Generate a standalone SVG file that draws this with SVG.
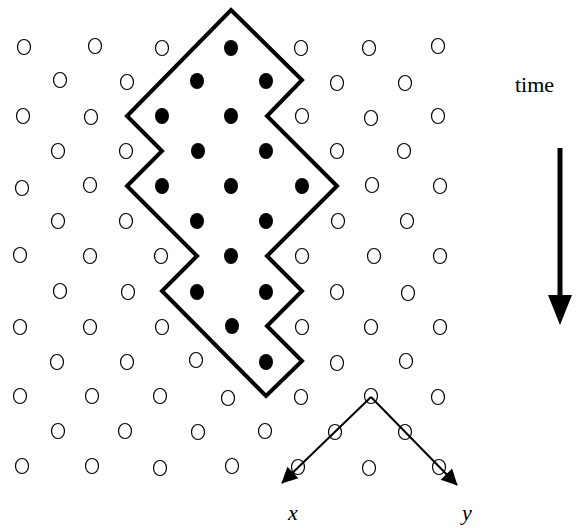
<svg xmlns="http://www.w3.org/2000/svg" width="583" height="528" viewBox="0 0 583 528">
<style>
.o{fill:#fff;stroke:#000;stroke-width:1.2}
.f{fill:#000;stroke:none}
</style>
<defs>
<marker id="ah2" viewBox="0 0 10 10" refX="9.5" refY="5" markerWidth="20" markerHeight="16" markerUnits="userSpaceOnUse" orient="auto">
<path d="M0,0 L10,5 L0,10 Z" fill="#000"/>
</marker>
</defs>
<rect width="583" height="528" fill="#fff"/>
<g id="lattice">
<g id="row0"><ellipse class="o" cx="24" cy="47" rx="6.5" ry="7.5"/><ellipse class="o" cx="95" cy="46" rx="6.5" ry="7.5"/><ellipse class="o" cx="162" cy="48" rx="6.5" ry="7.5"/><ellipse class="f" cx="231" cy="48" rx="7" ry="8"/><ellipse class="o" cx="301" cy="48" rx="6.5" ry="7.5"/><ellipse class="o" cx="369" cy="48" rx="6.5" ry="7.5"/><ellipse class="o" cx="438" cy="46" rx="6.5" ry="7.5"/></g>
<g id="row1"><ellipse class="o" cx="60" cy="80" rx="6.5" ry="7.5"/><ellipse class="o" cx="127" cy="82" rx="6.5" ry="7.5"/><ellipse class="f" cx="197" cy="81" rx="7" ry="8"/><ellipse class="f" cx="266" cy="81" rx="7" ry="8"/><ellipse class="o" cx="337" cy="83" rx="6.5" ry="7.5"/><ellipse class="o" cx="405" cy="83" rx="6.5" ry="7.5"/></g>
<g id="row2"><ellipse class="o" cx="23" cy="116" rx="6.5" ry="7.5"/><ellipse class="o" cx="91" cy="117" rx="6.5" ry="7.5"/><ellipse class="f" cx="162" cy="116" rx="7" ry="8"/><ellipse class="f" cx="231" cy="116" rx="7" ry="8"/><ellipse class="o" cx="302" cy="116" rx="6.5" ry="7.5"/><ellipse class="o" cx="371" cy="118" rx="6.5" ry="7.5"/><ellipse class="o" cx="438" cy="116" rx="6.5" ry="7.5"/></g>
<g id="row3"><ellipse class="o" cx="58" cy="151" rx="6.5" ry="7.5"/><ellipse class="o" cx="126" cy="151" rx="6.5" ry="7.5"/><ellipse class="f" cx="198" cy="151" rx="7" ry="8"/><ellipse class="f" cx="266" cy="151" rx="7" ry="8"/><ellipse class="o" cx="337" cy="151" rx="6.5" ry="7.5"/><ellipse class="o" cx="404" cy="151" rx="6.5" ry="7.5"/></g>
<g id="row4"><ellipse class="o" cx="22" cy="188" rx="6.5" ry="7.5"/><ellipse class="o" cx="90" cy="185" rx="6.5" ry="7.5"/><ellipse class="f" cx="162" cy="186" rx="7" ry="8"/><ellipse class="f" cx="231" cy="186" rx="7" ry="8"/><ellipse class="f" cx="302" cy="186" rx="7" ry="8"/><ellipse class="o" cx="372" cy="185" rx="6.5" ry="7.5"/><ellipse class="o" cx="440" cy="186" rx="6.5" ry="7.5"/></g>
<g id="row5"><ellipse class="o" cx="58" cy="221" rx="6.5" ry="7.5"/><ellipse class="o" cx="126" cy="221" rx="6.5" ry="7.5"/><ellipse class="f" cx="197" cy="221" rx="7" ry="8"/><ellipse class="f" cx="266" cy="221" rx="7" ry="8"/><ellipse class="o" cx="338" cy="221" rx="6.5" ry="7.5"/><ellipse class="o" cx="407" cy="221" rx="6.5" ry="7.5"/></g>
<g id="row6"><ellipse class="o" cx="20" cy="255" rx="6.5" ry="7.5"/><ellipse class="o" cx="90" cy="256" rx="6.5" ry="7.5"/><ellipse class="o" cx="161" cy="256" rx="6.5" ry="7.5"/><ellipse class="f" cx="231" cy="256" rx="7" ry="8"/><ellipse class="o" cx="302" cy="256" rx="6.5" ry="7.5"/><ellipse class="o" cx="374" cy="256" rx="6.5" ry="7.5"/><ellipse class="o" cx="440" cy="256" rx="6.5" ry="7.5"/></g>
<g id="row7"><ellipse class="o" cx="60" cy="291" rx="6.5" ry="7.5"/><ellipse class="o" cx="128" cy="292" rx="6.5" ry="7.5"/><ellipse class="f" cx="197" cy="292" rx="7" ry="8"/><ellipse class="f" cx="266" cy="292" rx="7" ry="8"/><ellipse class="o" cx="337" cy="292" rx="6.5" ry="7.5"/><ellipse class="o" cx="408" cy="293" rx="6.5" ry="7.5"/></g>
<g id="row8"><ellipse class="o" cx="20" cy="327" rx="6.5" ry="7.5"/><ellipse class="o" cx="90" cy="327" rx="6.5" ry="7.5"/><ellipse class="o" cx="162" cy="327" rx="6.5" ry="7.5"/><ellipse class="f" cx="232" cy="326" rx="7" ry="8"/><ellipse class="o" cx="302" cy="327" rx="6.5" ry="7.5"/><ellipse class="o" cx="371" cy="327" rx="6.5" ry="7.5"/><ellipse class="o" cx="440" cy="327" rx="6.5" ry="7.5"/></g>
<g id="row9"><ellipse class="o" cx="57" cy="362" rx="6.5" ry="7.5"/><ellipse class="o" cx="127" cy="362" rx="6.5" ry="7.5"/><ellipse class="o" cx="196" cy="360" rx="6.5" ry="7.5"/><ellipse class="f" cx="266" cy="362" rx="7" ry="8"/><ellipse class="o" cx="337" cy="363" rx="6.5" ry="7.5"/><ellipse class="o" cx="406" cy="361" rx="6.5" ry="7.5"/></g>
<g id="row10"><ellipse class="o" cx="20" cy="396" rx="6.5" ry="7.5"/><ellipse class="o" cx="92" cy="396" rx="6.5" ry="7.5"/><ellipse class="o" cx="160" cy="396" rx="6.5" ry="7.5"/><ellipse class="o" cx="228" cy="398" rx="6.5" ry="7.5"/><ellipse class="o" cx="301" cy="397" rx="6.5" ry="7.5"/><ellipse class="o" cx="371" cy="396" rx="6.5" ry="7.5"/><ellipse class="o" cx="438" cy="397" rx="6.5" ry="7.5"/></g>
<g id="row11"><ellipse class="o" cx="58" cy="431" rx="6.5" ry="7.5"/><ellipse class="o" cx="125" cy="431" rx="6.5" ry="7.5"/><ellipse class="o" cx="198" cy="432" rx="6.5" ry="7.5"/><ellipse class="o" cx="265" cy="431" rx="6.5" ry="7.5"/><ellipse class="o" cx="335" cy="432" rx="6.5" ry="7.5"/><ellipse class="o" cx="405" cy="432" rx="6.5" ry="7.5"/></g>
<g id="row12"><ellipse class="o" cx="22" cy="466" rx="6.5" ry="7.5"/><ellipse class="o" cx="92" cy="466" rx="6.5" ry="7.5"/><ellipse class="o" cx="160" cy="468" rx="6.5" ry="7.5"/><ellipse class="o" cx="232" cy="466" rx="6.5" ry="7.5"/><ellipse class="o" cx="298" cy="467" rx="6.5" ry="7.5"/><ellipse class="o" cx="369" cy="468" rx="6.5" ry="7.5"/><ellipse class="o" cx="439" cy="467" rx="6.5" ry="7.5"/></g>
</g>
<g id="region">
<polygon points="231,10 302,80 267,116 337,186 267,256 302,291 267,326 302,361 266,396 162,291 197,256 127,186 162,151 127,116" fill="none" stroke="#000" stroke-width="4" stroke-linejoin="miter"/>
</g>
<g id="connectors">
<line x1="371" y1="397" x2="282" y2="483" stroke="#000" stroke-width="2" marker-end="url(#ah2)"/>
<line x1="371" y1="397" x2="457" y2="485" stroke="#000" stroke-width="2" marker-end="url(#ah2)"/>
<line x1="560" y1="148" x2="560" y2="300" stroke="#000" stroke-width="5"/>
<polygon points="548,295 572,295 560,325" fill="#000"/>
</g>
<g id="labels" font-family="'Liberation Serif', 'Times New Roman', serif" fill="#000">
<text x="515" y="92" font-size="22">time</text>
<text x="293" y="520" font-size="22" font-style="italic" text-anchor="middle">x</text>
<text x="467" y="520" font-size="22" font-style="italic" text-anchor="middle">y</text>
</g>
</svg>
